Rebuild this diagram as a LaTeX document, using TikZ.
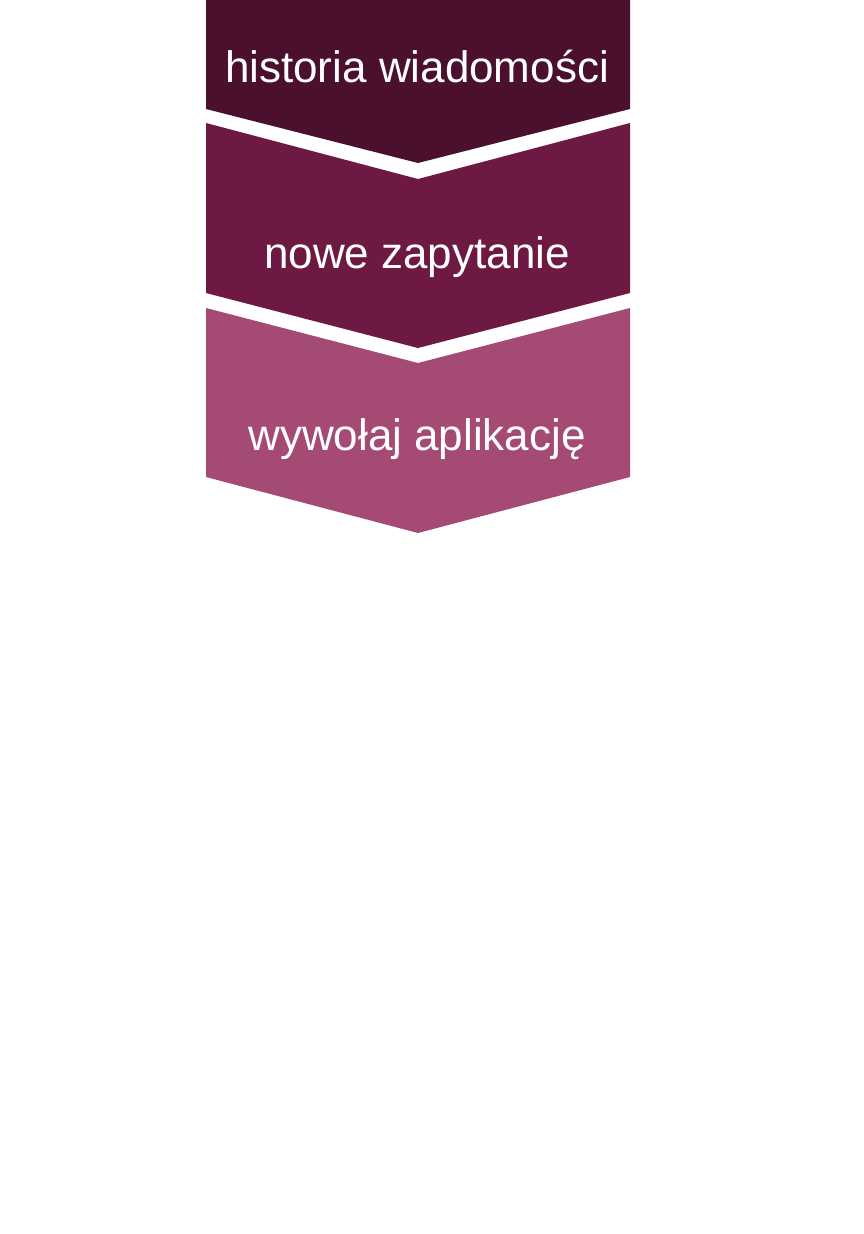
\documentclass[tikz,border=0pt]{standalone}
\usepackage{fontspec}
\setmainfont{Liberation Sans}
\usetikzlibrary{positioning}
\definecolor{histcol}{RGB}{74,16,46}
\definecolor{askcol}{RGB}{110,25,67}
\definecolor{appcol}{RGB}{164,74,116}
\tikzstyle{chev}=[draw=none]
\tikzstyle{lbl}=[text=white,font=\fontsize{44}{50}\selectfont,anchor=base,inner sep=0pt]

\begin{document}
\begin{tikzpicture}[x=1pt,y=-1pt]
\useasboundingbox (0,0) rectangle (864,1234);
% chevrons
\fill[chev,histcol] (206,0) -- (630,0) -- (630,109) -- (418,163) -- (206,109) -- cycle;
\fill[chev,askcol] (206,123) -- (418,179) -- (630,123) -- (630,293) -- (418,348) -- (206,293) -- cycle;
\fill[chev,appcol] (206,308) -- (418,363) -- (630,308) -- (630,477) -- (418,533) -- (206,477) -- cycle;
% labels
\node (hist) [lbl] at (417,82) {historia wiadomości};
\node (ask) [lbl] at (417,268) {nowe zapytanie};
\node (app) [lbl] at (417,450) {wywołaj aplikację};
\end{tikzpicture}
\end{document}
